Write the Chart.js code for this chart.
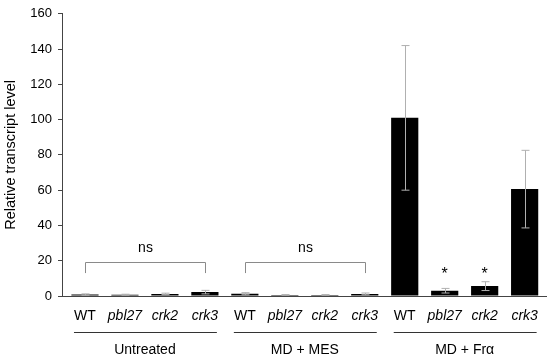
<!DOCTYPE html>
<html><head><meta charset="utf-8">
<script src="https://cdn.jsdelivr.net/npm/chart.js@4"></script>
<style>html,body{margin:0;padding:0;background:#fff}#w{width:550px;height:361px}</style>
</head><body><div id="w"><canvas id="c" width="550" height="361"></canvas></div>
<script>
const categories = ['WT','pbl27','crk2','crk3','WT','pbl27','crk2','crk3','WT','pbl27','crk2','crk3'];
const values = [0.8, 0.7, 1.2, 2.2, 1.3, 0.6, 0.6, 1.2, 101, 3.0, 5.6, 60.6];
const errors = [0.4, 0.3, 0.4, 1.0, 0.6, 0.2, 0.2, 0.5, 41, 1.3, 2.5, 22];
const groups = ['Untreated','MD + MES','MD + Fr\u03b1'];
const yTicks = [0,20,40,60,80,100,120,140,160];
const brackets = [[0,3,'ns'],[4,7,'ns']];
const stars = [9,10];

const FONT = "'Liberation Sans', Arial, sans-serif";

const overlay = {
  id:'overlay',
  afterDatasetsDraw(chart){
    const ctx = chart.ctx, xs = chart.scales.x, ys = chart.scales.y;
    ctx.save();
    // error bars
    ctx.strokeStyle = '#b0b0b0'; ctx.lineWidth = 1;
    values.forEach((v,i)=>{
      const x = Math.round(xs.getPixelForValue(i))+0.5;
      const t = ys.getPixelForValue(v+errors[i]), b = ys.getPixelForValue(Math.max(0,v-errors[i]));
      ctx.beginPath();
      ctx.moveTo(x,t); ctx.lineTo(x,b);
      ctx.moveTo(x-4,t); ctx.lineTo(x+4,t);
      ctx.moveTo(x-4,b); ctx.lineTo(x+4,b);
      ctx.stroke();
    });
    // brackets
    ctx.strokeStyle = '#8a8a8a';
    ctx.fillStyle = '#000';
    ctx.font = '14px ' + FONT; ctx.textAlign='center'; ctx.textBaseline='middle';
    brackets.forEach(([a,b,txt])=>{
      const x1 = Math.round(xs.getPixelForValue(a))+0.5, x2 = Math.round(xs.getPixelForValue(b))+0.5;
      const y = Math.round(ys.getPixelForValue(19))+0.5, y2 = ys.getPixelForValue(13);
      ctx.beginPath();
      ctx.moveTo(x1,y2); ctx.lineTo(x1,y); ctx.lineTo(x2,y); ctx.lineTo(x2,y2);
      ctx.stroke();
      ctx.fillText(txt,(x1+x2)/2, ys.getPixelForValue(27.5)+1);
    });
    // stars
    ctx.font = '16px ' + FONT;
    stars.forEach(i=>{
      ctx.fillText('*', xs.getPixelForValue(i), ys.getPixelForValue(0) - 21);
    });
    // groups
    ctx.font = '14px ' + FONT;
    ctx.strokeStyle = '#333';
    groups.forEach((g,k)=>{
      const x1 = xs.getPixelForValue(4*k) - 11, x2 = xs.getPixelForValue(4*k+3) + 12;
      ctx.beginPath(); ctx.moveTo(x1, 332.5); ctx.lineTo(x2, 332.5); ctx.stroke();
      ctx.fillText(g, xs.getPixelForValue(4*k+1.5), 350);
    });
    ctx.restore();
  }
};

new Chart(document.getElementById('c'), {
  type:'bar',
  data:{
    datasets:[{
      data: values.map((v,i)=>({x:i,y:v})),
      backgroundColor:'#000',
      borderWidth:0,
      barPercentage:0.68,
      categoryPercentage:1
    }]
  },
  options:{
    responsive:false, animation:false,
    layout:{padding:{top:12,right:3,left:0,bottom:0}},
    plugins:{legend:{display:false},tooltip:{enabled:false}},
    scales:{
      x:{
        type:'linear', min:-0.575, max:11.55, offset:false,
        afterBuildTicks(s){ s.ticks = categories.map((_,i)=>({value:i})); },
        afterFit(s){ s.height = 65; },
        grid:{display:true, drawOnChartArea:false, drawTicks:false},
        border:{display:true,color:'#444',width:1},
        ticks:{
          autoSkip:false, maxRotation:0, padding:12, color:'#000',
          callback:(v)=>categories[v] ?? '',
          font:(c)=>({family:FONT,size:14,style:(c.tick && c.tick.value%4!==0)?'italic':'normal'})
        }
      },
      y:{
        min:0,max:160,
        afterBuildTicks(s){ s.ticks = yTicks.map(v=>({value:v})); },
        afterFit(s){ s.width = 62; },
        grid:{drawOnChartArea:false, drawTicks:true, tickLength:4, color:'#444'},
        border:{display:true,color:'#444',width:1},
        ticks:{padding:6,color:'#000',font:{family:FONT,size:13}},
        title:{display:true,text:'Relative transcript level',color:'#000',font:{family:FONT,size:14.5},padding:{top:2,bottom:0}}
      }
    }
  },
  plugins:[overlay]
});
</script>
</body></html>
